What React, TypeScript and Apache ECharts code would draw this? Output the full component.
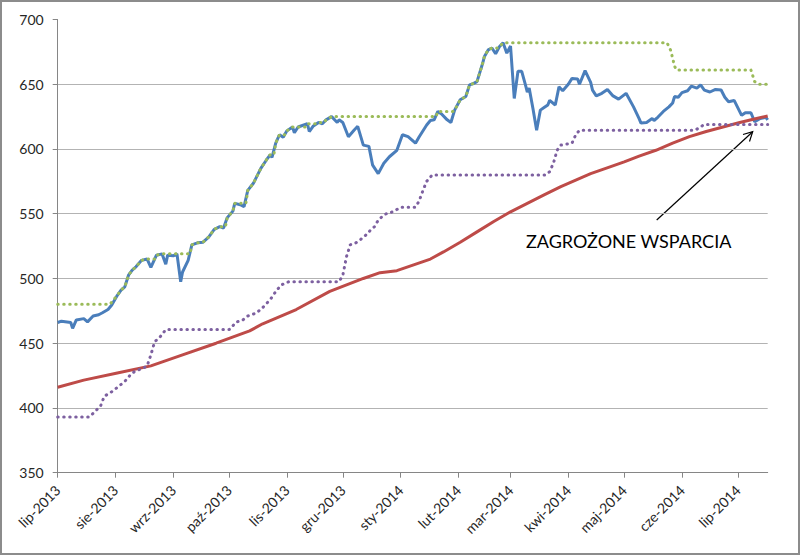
import React, { useEffect, useRef } from "react";
import * as echarts from "echarts";

// Polish month abbreviations for the tick labels
const monthNames = ["sty", "lut", "mar", "kwi", "maj", "cze", "lip", "sie", "wrz", "paź", "lis", "gru"];
const firstDay = "2013-07-01";
const lastDay = "2014-07-17";
const yTicks = { min: 350, max: 700, step: 50 };
const annotationText = "ZAGROŻONE WSPARCIA";

// closing price (blue)
const price: [string, number][] = [
  ["2013-07-01", 466], ["2013-07-03", 467], ["2013-07-08", 466], ["2013-07-09", 461.5], ["2013-07-11", 468],
  ["2013-07-15", 469], ["2013-07-17", 466.5], ["2013-07-20", 471], ["2013-07-23", 472], ["2013-07-25", 473.5],
  ["2013-07-28", 476], ["2013-07-30", 479.5], ["2013-08-02", 487], ["2013-08-04", 491], ["2013-08-06", 493.5],
  ["2013-08-08", 502.5], ["2013-08-10", 506.5], ["2013-08-12", 509], ["2013-08-15", 514], ["2013-08-18", 515],
  ["2013-08-20", 508.5], ["2013-08-23", 518], ["2013-08-26", 519], ["2013-08-28", 511], ["2013-08-29", 518],
  ["2013-09-01", 517.5], ["2013-09-03", 519], ["2013-09-05", 497.5], ["2013-09-06", 505], ["2013-09-09", 514],
  ["2013-09-11", 526], ["2013-09-14", 527.5], ["2013-09-17", 528], ["2013-09-20", 532], ["2013-09-23", 538],
  ["2013-09-26", 540], ["2013-09-28", 539], ["2013-09-30", 547], ["2013-10-03", 552], ["2013-10-04", 558],
  ["2013-10-07", 557], ["2013-10-09", 555.5], ["2013-10-11", 568], ["2013-10-14", 573.5], ["2013-10-18", 585],
  ["2013-10-21", 591.5], ["2013-10-23", 595.5], ["2013-10-24", 593.5], ["2013-10-26", 604.5], ["2013-10-28", 611],
  ["2013-10-30", 609], ["2013-11-01", 614], ["2013-11-04", 617], ["2013-11-05", 612.5], ["2013-11-07", 617],
  ["2013-11-12", 619.5], ["2013-11-13", 613.5], ["2013-11-15", 617.5], ["2013-11-18", 620.5], ["2013-11-20", 619.5],
  ["2013-11-22", 622.5], ["2013-11-25", 625], ["2013-11-28", 620.5], ["2013-11-29", 622.5], ["2013-12-01", 620.5],
  ["2013-12-04", 609.5], ["2013-12-07", 614.5], ["2013-12-09", 617.5], ["2013-12-12", 603], ["2013-12-15", 602],
  ["2013-12-17", 587.5], ["2013-12-20", 581], ["2013-12-23", 589], ["2013-12-26", 594], ["2013-12-30", 599],
  ["2014-01-02", 611], ["2014-01-05", 609.5], ["2014-01-09", 604.5], ["2014-01-11", 609.5], ["2014-01-15", 618.5],
  ["2014-01-17", 622], ["2014-01-19", 622.5], ["2014-01-21", 629], ["2014-01-23", 627], ["2014-01-26", 622.5],
  ["2014-01-28", 620.5], ["2014-01-30", 630], ["2014-02-02", 638], ["2014-02-05", 640.5], ["2014-02-07", 649.5],
  ["2014-02-09", 650.5], ["2014-02-11", 652], ["2014-02-14", 666], ["2014-02-15", 671.5], ["2014-02-17", 676.5],
  ["2014-02-19", 678], ["2014-02-21", 673.5], ["2014-02-23", 679], ["2014-02-25", 682], ["2014-02-27", 674],
  ["2014-03-01", 679.5], ["2014-03-03", 639], ["2014-03-05", 660], ["2014-03-07", 660], ["2014-03-09", 649.5],
  ["2014-03-10", 644], ["2014-03-11", 647], ["2014-03-13", 631.5], ["2014-03-15", 614.5], ["2014-03-17", 630],
  ["2014-03-19", 632], ["2014-03-21", 634], ["2014-03-22", 637.5], ["2014-03-25", 634], ["2014-03-27", 648],
  ["2014-03-29", 645], ["2014-04-01", 650], ["2014-04-03", 654.5], ["2014-04-06", 654], ["2014-04-07", 650],
  ["2014-04-10", 660.5], ["2014-04-13", 651.5], ["2014-04-14", 645.5], ["2014-04-16", 641], ["2014-04-19", 643],
  ["2014-04-22", 646], ["2014-04-25", 641], ["2014-04-28", 638.5], ["2014-05-02", 643], ["2014-05-06", 632.5],
  ["2014-05-09", 623.5], ["2014-05-10", 620], ["2014-05-13", 620.5], ["2014-05-16", 623.5], ["2014-05-17", 622],
  ["2014-05-19", 624.5], ["2014-05-22", 629], ["2014-05-25", 632.5], ["2014-05-27", 635.5], ["2014-05-28", 640.5],
  ["2014-05-30", 640], ["2014-06-01", 643.5], ["2014-06-04", 645], ["2014-06-06", 648.5], ["2014-06-09", 647],
  ["2014-06-11", 649.5], ["2014-06-13", 645.5], ["2014-06-16", 644], ["2014-06-19", 646], ["2014-06-22", 645.5],
  ["2014-06-24", 640], ["2014-06-26", 636.5], ["2014-06-29", 637.5], ["2014-07-03", 626], ["2014-07-05", 628],
  ["2014-07-08", 628], ["2014-07-10", 621], ["2014-07-13", 623.5], ["2014-07-16", 624.5], ["2014-07-17", 622.5],
];

// long moving average (red)
const movingAverage: [string, number][] = [
  ["2013-07-01", 416], ["2013-07-15", 421.5], ["2013-08-02", 427], ["2013-08-20", 432.5], ["2013-09-06", 441],
  ["2013-09-24", 450], ["2013-10-12", 459.5], ["2013-10-19", 465], ["2013-11-06", 476], ["2013-11-24", 490],
  ["2013-12-12", 500], ["2013-12-21", 504.5], ["2013-12-30", 506], ["2014-01-08", 510.5], ["2014-01-17", 515],
  ["2014-01-24", 520.5], ["2014-02-02", 528], ["2014-02-11", 536], ["2014-02-20", 544], ["2014-03-01", 551.5],
  ["2014-03-10", 558], ["2014-03-19", 564.5], ["2014-03-28", 571], ["2014-04-05", 576], ["2014-04-13", 581],
  ["2014-04-23", 586], ["2014-05-01", 590], ["2014-05-09", 594.5], ["2014-05-18", 599], ["2014-05-27", 604.5],
  ["2014-06-05", 609.5], ["2014-06-14", 613.5], ["2014-06-23", 617], ["2014-07-02", 620.5], ["2014-07-11", 623.5],
  ["2014-07-17", 625.5],
];

// rolling high (green dotted)
const rollingHigh: [string, number][] = [
  ["2013-07-01", 480], ["2013-07-29", 480], ["2013-08-02", 487], ["2013-08-04", 491], ["2013-08-06", 493.5],
  ["2013-08-08", 502.5], ["2013-08-10", 506.5], ["2013-08-12", 509], ["2013-08-15", 514], ["2013-08-18", 515],
  ["2013-08-22", 515], ["2013-08-23", 518], ["2013-08-26", 519], ["2013-09-10", 519], ["2013-09-11", 526],
  ["2013-09-14", 527.5], ["2013-09-17", 528], ["2013-09-20", 532], ["2013-09-23", 538], ["2013-09-26", 540],
  ["2013-09-29", 540], ["2013-09-30", 547], ["2013-10-03", 552], ["2013-10-04", 558], ["2013-10-10", 558],
  ["2013-10-11", 568], ["2013-10-14", 573.5], ["2013-10-18", 585], ["2013-10-21", 591.5], ["2013-10-23", 595.5],
  ["2013-10-25", 595.5], ["2013-10-26", 604.5], ["2013-10-28", 611], ["2013-10-31", 611], ["2013-11-01", 614],
  ["2013-11-04", 617], ["2013-11-11", 617], ["2013-11-12", 619.5], ["2013-11-17", 619.5], ["2013-11-18", 620.5],
  ["2013-11-21", 620.5], ["2013-11-22", 622.5], ["2013-11-25", 625], ["2014-01-20", 625], ["2014-01-21", 629],
  ["2014-01-29", 629], ["2014-01-30", 630], ["2014-02-02", 638], ["2014-02-05", 640.5], ["2014-02-07", 649.5],
  ["2014-02-09", 650.5], ["2014-02-11", 652], ["2014-02-14", 666], ["2014-02-15", 671.5], ["2014-02-17", 676.5],
  ["2014-02-19", 678], ["2014-02-22", 678], ["2014-02-23", 679], ["2014-02-25", 682], ["2014-05-24", 682],
  ["2014-05-26", 676], ["2014-05-27", 670], ["2014-05-28", 664], ["2014-05-29", 661], ["2014-07-08", 661],
  ["2014-07-10", 652], ["2014-07-12", 650], ["2014-07-17", 650],
];

// rolling low (purple dotted)
const rollingLow: [string, number][] = [
  ["2013-07-01", 393], ["2013-07-18", 393], ["2013-07-24", 401.5], ["2013-07-26", 409], ["2013-07-30", 412.5],
  ["2013-08-03", 417], ["2013-08-06", 420.5], ["2013-08-09", 425.5], ["2013-08-12", 429], ["2013-08-15", 430],
  ["2013-08-18", 432.5], ["2013-08-20", 441], ["2013-08-22", 451], ["2013-08-25", 455], ["2013-08-28", 460.5],
  ["2013-10-01", 460.5], ["2013-10-05", 466.5], ["2013-10-08", 467.5], ["2013-10-11", 471], ["2013-10-15", 473],
  ["2013-10-18", 476], ["2013-10-21", 480.5], ["2013-10-24", 485.5], ["2013-10-26", 490], ["2013-10-29", 495],
  ["2013-11-02", 497.5], ["2013-11-29", 497.5], ["2013-12-01", 502.5], ["2013-12-03", 517], ["2013-12-05", 526],
  ["2013-12-08", 527.5], ["2013-12-10", 529.5], ["2013-12-13", 533], ["2013-12-16", 537.5], ["2013-12-18", 540],
  ["2013-12-20", 545], ["2013-12-23", 549], ["2013-12-25", 550.5], ["2013-12-28", 551.5], ["2014-01-01", 555],
  ["2014-01-09", 555], ["2014-01-11", 560], ["2014-01-13", 568], ["2014-01-15", 575], ["2014-01-18", 580],
  ["2014-03-20", 580], ["2014-03-22", 582.5], ["2014-03-24", 589], ["2014-03-26", 599], ["2014-03-28", 603],
  ["2014-04-03", 604.5], ["2014-04-05", 611], ["2014-04-07", 614.5], ["2014-06-08", 614.5], ["2014-06-11", 617],
  ["2014-06-13", 619], ["2014-07-17", 619],
];

function buildDays(from: string, to: string): string[] {
  const out: string[] = [];
  const end = Date.parse(to + "T00:00:00Z");
  for (let t = Date.parse(from + "T00:00:00Z"); t <= end; t += 86400000) {
    out.push(new Date(t).toISOString().slice(0, 10));
  }
  return out;
}

export default function App() {
  const ref = useRef<HTMLDivElement>(null);

  useEffect(() => {
    if (!ref.current) return;
    const chart = echarts.init(ref.current, null, { renderer: "svg" });
    const days = buildDays(firstDay, lastDay);
    const idx = new Map(days.map((d, i) => [d, i]));
    const toXY = (arr: [string, number][]) => arr.map(([d, v]) => [idx.get(d) as number, v]);
    const isMonthStart = (_i: number, v: string) => v.endsWith("-01");
    const font = "Lato, 'Open Sans', sans-serif";
    const axisGrey = "#868686";

    chart.setOption({
      animation: false,
      backgroundColor: "#ffffff",
      grid: { left: 57.7, right: 32.3, top: 19.5, bottom: 83.3, containLabel: false, outerBoundsMode: "none" },
      xAxis: {
        type: "category",
        data: days,
        boundaryGap: false,
        axisLine: { show: true, lineStyle: { color: axisGrey, width: 1 } },
        axisTick: { show: true, interval: isMonthStart, length: 5, lineStyle: { color: axisGrey } },
        axisLabel: {
          interval: isMonthStart,
          rotate: 45,
          margin: 15,
          color: "#262626",
          fontFamily: font,
          fontSize: 14,
          formatter: (v: string) => `${monthNames[parseInt(v.slice(5, 7), 10) - 1]}-${v.slice(0, 4)}`,
        },
        splitLine: { show: false },
      },
      yAxis: {
        type: "value",
        min: yTicks.min,
        max: yTicks.max,
        interval: yTicks.step,
        axisLine: { show: true, lineStyle: { color: axisGrey, width: 1 } },
        axisTick: { show: true, length: 5, lineStyle: { color: axisGrey } },
        axisLabel: { color: "#262626", fontFamily: font, fontSize: 14, margin: 14 },
        splitLine: { show: true, showMaxLine: false, lineStyle: { color: "#b3b3b3", width: 1 } },
      },
      series: [
        {
          name: "kurs",
          type: "line",
          data: toXY(price),
          symbol: "none",
          lineStyle: { color: "#4a7ebb", width: 3 },
          itemStyle: { color: "#4a7ebb" },
        },
        {
          name: "średnia",
          type: "line",
          data: toXY(movingAverage),
          symbol: "none",
          lineStyle: { color: "#be4b48", width: 3 },
          itemStyle: { color: "#be4b48" },
        },
        {
          name: "maksimum",
          type: "line",
          data: toXY(rollingHigh),
          symbol: "none",
          lineStyle: { color: "#9bbb59", width: 3, type: [0.5, 5.5], cap: "round" },
          itemStyle: { color: "#9bbb59" },
        },
        {
          name: "minimum",
          type: "line",
          data: toXY(rollingLow),
          symbol: "none",
          lineStyle: { color: "#7d60a0", width: 3, type: [0.5, 5.5], cap: "round" },
          itemStyle: { color: "#7d60a0" },
        },
      ],
      graphic: [
        {
          type: "rect",
          shape: { x: 1, y: 1, width: 798, height: 553 },
          style: { fill: "none", stroke: "#8c8c8c", lineWidth: 2 },
          silent: true,
        },
        {
          type: "text",
          x: 526,
          y: 241,
          style: {
            text: annotationText,
            fill: "#000000",
            font: `18px ${font}`,
            textVerticalAlign: "middle",
            verticalAlign: "middle",
          },
        },
        {
          type: "line",
          shape: { x1: 656.7, y1: 220, x2: 752.7, y2: 131.7 },
          style: { stroke: "#000000", lineWidth: 1.2 },
        },
        {
          type: "polyline",
          shape: { points: [[743, 134.5], [752.7, 131.7], [749.5, 141.5]] },
          style: { stroke: "#000000", lineWidth: 1.2, fill: "none" },
        },
      ],
    });
    return () => chart.dispose();
  }, []);

  return (
    <div
      ref={ref}
      style={{ position: "absolute", left: 0, top: 0, width: 800, height: 556, background: "#fff" }}
    />
  );
}
